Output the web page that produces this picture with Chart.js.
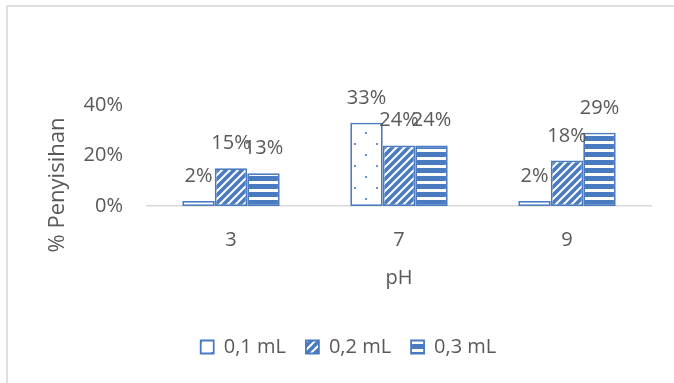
<!doctype html>
<html lang="en">
  <head>
    <meta charset="UTF-8" />
    <script src="https://cdn.jsdelivr.net/npm/chart.js@4.4.1/dist/chart.umd.min.js"></script>
    <style>
      body { margin: 0; background: #fff; }
    </style>
  </head>
  <body>
    <canvas id="myChart" width="674" height="383"></canvas>

    <script>
      // values (percent)
      const categories = ['3', '7', '9'];
      const seriesNames = ['0,1 mL', '0,2 mL', '0,3 mL'];
      const dose01 = [2, 33, 2];
      const dose02 = [15, 24, 18];
      const dose03 = [13, 24, 29];
      const yTicks = [0, 20, 40];

      const blue = '#4a7bc0';
      const textGrey = '#595959';

      // fill patterns like the excel ones
      function makeTile(w, h, draw) {
        const c = document.createElement('canvas');
        c.width = w;
        c.height = h;
        draw(c.getContext('2d'));
        return document.getElementById('myChart').getContext('2d').createPattern(c, 'repeat');
      }

      const dots = makeTile(22, 22, g => {
        g.fillStyle = '#fff';
        g.fillRect(0, 0, 22, 22);
        g.fillStyle = '#6a93cf';
        g.fillRect(13, 0, 2, 2);
        g.fillRect(2, 11, 2, 2);
      });

      const diag = makeTile(8, 8, g => {
        g.fillStyle = blue;
        g.fillRect(0, 0, 8, 8);
        g.strokeStyle = '#fff';
        g.lineWidth = 2;
        g.beginPath();
        g.moveTo(-1, 9); g.lineTo(9, -1);
        g.moveTo(-1, 1); g.lineTo(1, -1);
        g.moveTo(7, 9); g.lineTo(9, 7);
        g.stroke();
      });

      const stripes = makeTile(8, 8, g => {
        g.fillStyle = '#fff';
        g.fillRect(0, 0, 8, 8);
        g.fillStyle = blue;
        g.fillRect(0, 0, 8, 5);
      });

      // value labels above each bar
      const barLabels = {
        id: 'barLabels',
        afterDatasetsDraw(chart) {
          const ctx = chart.ctx;
          ctx.save();
          ctx.font = '20px "Open Sans"';
          ctx.fillStyle = textGrey;
          ctx.textAlign = 'center';
          ctx.textBaseline = 'alphabetic';
          chart.data.datasets.forEach((ds, i) => {
            chart.getDatasetMeta(i).data.forEach((bar, j) => {
              ctx.fillText(ds.data[j] + '%', bar.x, bar.y - 19);
            });
          });
          ctx.restore();
        }
      };

      // frame lines + rotated y title
      const extras = {
        id: 'extras',
        afterDraw(chart) {
          const ctx = chart.ctx;
          ctx.save();
          ctx.strokeStyle = '#d6d6d6';
          ctx.lineWidth = 1.5;
          ctx.beginPath();
          ctx.moveTo(7, 383);
          ctx.lineTo(7, 6);
          ctx.lineTo(674, 6);
          ctx.stroke();

          ctx.translate(58, 185);
          ctx.rotate(-Math.PI / 2);
          ctx.font = '22px "Open Sans"';
          ctx.fillStyle = textGrey;
          ctx.textAlign = 'center';
          ctx.textBaseline = 'middle';
          ctx.fillText('% Penyisihan', 0, 0);
          ctx.restore();
        }
      };

      window.addEventListener('load', setup);

      function setup() {
        Chart.defaults.font.family = '"Open Sans"';
        Chart.defaults.font.size = 20;
        Chart.defaults.color = textGrey;

        const ctx = document.getElementById('myChart').getContext('2d');
        const fills = [dots, diag, stripes];
        const values = [dose01, dose02, dose03];

        const myChart = new Chart(ctx, {
          type: 'bar',
          data: {
            labels: categories,
            datasets: seriesNames.map((name, i) => ({
              label: name,
              data: values[i],
              backgroundColor: fills[i],
              borderColor: blue,
              borderWidth: 1.8,
              borderSkipped: false,
              categoryPercentage: 0.58,
              barPercentage: 1.0
            }))
          },
          options: {
            responsive: false,
            animation: false,
            devicePixelRatio: 1,
            layout: { padding: { top: 105, right: 23, bottom: 16, left: 46 } },
            plugins: {
              legend: {
                position: 'bottom',
                labels: {
                  boxWidth: 13,
                  boxHeight: 13,
                  padding: 20,
                  font: { size: 20 },
                  color: textGrey
                }
              },
              tooltip: { enabled: false }
            },
            scales: {
              x: {
                grid: { display: false },
                border: { display: true, color: '#d9d9d9', width: 1.5 },
                ticks: { padding: 14 },
                title: { display: true, text: 'pH', padding: { top: 0, bottom: 27 } },
                afterFit: s => { s.height = 111; }
              },
              y: {
                min: 0,
                max: 40,
                grid: { display: false, drawTicks: false },
                border: { display: false },
                afterBuildTicks: s => { s.ticks = yTicks.map(v => ({ value: v })); },
                ticks: { padding: 24, callback: v => v + '%' },
                afterFit: s => { s.width = 101; }
              }
            }
          },
          plugins: [barLabels, extras]
        });
      }
    </script>
  </body>
</html>
